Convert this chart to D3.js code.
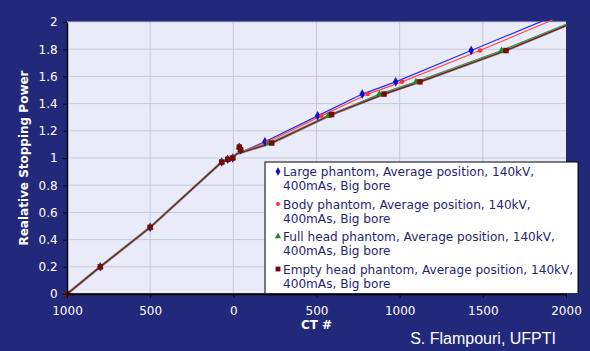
<!DOCTYPE html>
<html>
<head>
<meta charset="utf-8">
<script src="https://cdn.jsdelivr.net/npm/d3@7"></script>
<style>
  html, body { margin: 0; padding: 0; background: #23297a; }
  svg { display: block; }
</style>
</head>
<body>
<div id="chart"></div>
<script>
// x ticks shown without sign, as in the original slide
const xTicks = [-1000, -500, 0, 500, 1000, 1500, 2000];
const yTicks = [0, 0.2, 0.4, 0.6, 0.8, 1, 1.2, 1.4, 1.6, 1.8, 2];

const seriesNames = [
    "Large phantom, Average position, 140kV,|400mAs, Big bore",
    "Body phantom, Average position, 140kV,|400mAs, Big bore",
    "Full head phantom, Average position, 140kV,|400mAs, Big bore",
    "Empty head phantom, Average position, 140kV,|400mAs, Big bore"
];

// shared low-density points (air, lung, fat...)
const lowPoints = [[-1000, 0], [-800, 0.2], [-500, 0.49], [-70, 0.97], [-34, 0.99], [-4, 1.0], [36, 1.08], [44, 1.06]];

const largePoints = [[190, 1.12], [507, 1.31], [775, 1.47], [976, 1.56], [1430, 1.79]];
const bodyPoints = [[208, 1.12], [529, 1.31], [808, 1.47], [1014, 1.56], [1483, 1.79]];
const fullHeadPoints = [[215, 1.11], [571, 1.31], [878, 1.47], [1098, 1.56], [1613, 1.79]];
const emptyHeadPoints = [[231, 1.11], [591, 1.32], [906, 1.47], [1122, 1.56], [1639, 1.79]];

// end of each fitted line
const largeEnd = [1864, 2.01];
const bodyEnd = [1918, 2.015];
const fullHeadEnd = [2004, 1.985];
const emptyHeadEnd = [2004, 1.975];

const W = 590, H = 351;
const margin = { top: 22, right: 24, bottom: 57, left: 67 };
const width = W - margin.left - margin.right;
const height = H - margin.top - margin.bottom;

const svg = d3.select("#chart").append("svg")
    .attr("width", W)
    .attr("height", H);

svg.append("rect")
    .attr("width", W)
    .attr("height", H)
    .attr("fill", "#23297a");

const g = svg.append("g")
    .attr("transform", `translate(${margin.left},${margin.top})`);

const x = d3.scaleLinear().domain([-1000, 2000]).range([0, width]);
const y = d3.scaleLinear().domain([0, 2]).range([height, 0]);

// plot area
g.append("rect")
    .attr("width", width)
    .attr("height", height)
    .attr("fill", "#e9ecf8");

// gridlines
g.append("g")
    .selectAll("line")
    .data(yTicks.slice(1))
    .join("line")
    .attr("x1", 0).attr("x2", width)
    .attr("y1", d => y(d)).attr("y2", d => y(d))
    .attr("stroke", "#c3c9dd")
    .attr("stroke-width", 1);

g.append("g")
    .selectAll("line")
    .data(xTicks.slice(1, -1))
    .join("line")
    .attr("x1", d => x(d)).attr("x2", d => x(d))
    .attr("y1", 0).attr("y2", height)
    .attr("stroke", "#c3c9dd")
    .attr("stroke-width", 1);

const series = [
    { name: seriesNames[0], points: largePoints, end: largeEnd, line: "#2a2af0", fill: "#1010d0", shape: d3.symbolDiamond, size: 26 },
    { name: seriesNames[1], points: bodyPoints, end: bodyEnd, line: "#ff4a4a", fill: "#ff3030", shape: d3.symbolCircle, size: 16 },
    { name: seriesNames[2], points: fullHeadPoints, end: fullHeadEnd, line: "#2a8a2a", fill: "#1f8a1f", shape: d3.symbolTriangle, size: 22 },
    { name: seriesNames[3], points: emptyHeadPoints, end: emptyHeadEnd, line: "#6a2020", fill: "#7a0a0a", shape: d3.symbolSquare, size: 30 }
];

const line = d3.line()
    .x(d => x(d[0]))
    .y(d => y(d[1]));

// lines
series.forEach(s => {
    const pts = lowPoints.filter(p => p[0] < 0).concat([[20, 1.03]], s.points, [s.end]);
    if (s.shape === d3.symbolSquare) {
        g.append("path")
            .datum(pts)
            .attr("fill", "none")
            .attr("stroke", "#8a8a80")
            .attr("stroke-width", 2.6)
            .attr("d", line);
    }
    g.append("path")
        .datum(pts)
        .attr("fill", "none")
        .attr("stroke", s.line)
        .attr("stroke-width", 1.2)
        .attr("d", line);
});

// markers
series.forEach(s => {
    g.append("g")
        .selectAll("path")
        .data(lowPoints.concat(s.points))
        .join("path")
        .attr("transform", d => `translate(${x(d[0])},${y(d[1])})`)
        .attr("d", d3.symbol().type(s.shape).size(s.size))
        .attr("fill", s.fill);
});

// axes
const xAxis = g.append("g")
    .attr("transform", `translate(0,${height})`)
    .call(d3.axisBottom(x).tickValues(xTicks).tickSize(4).tickSizeOuter(0)
        .tickFormat(d => Math.abs(d)));

const yAxis = g.append("g")
    .call(d3.axisLeft(y).tickValues(yTicks).tickSize(4).tickSizeOuter(0)
        .tickFormat(d => d));

[xAxis, yAxis].forEach(a => {
    a.select(".domain").attr("stroke", "#000").attr("stroke-width", 1.5);
    a.selectAll(".tick line").attr("stroke", "#000");
    a.selectAll("text")
        .attr("fill", "#fff")
        .attr("font-family", "DejaVu Sans, Verdana, sans-serif")
        .attr("font-size", 12);
});
xAxis.selectAll("text").attr("y", 12);
yAxis.selectAll("text").attr("dx", "-0.2em");

// legend (its bottom runs under the x axis, as in the original)
const lx = 265 - margin.left, ly = 162 - margin.top;
const legendG = g.append("g").attr("transform", `translate(${lx},${ly})`);

svg.append("defs").append("clipPath")
    .attr("id", "legend-clip")
    .append("rect")
    .attr("x", -2).attr("y", -2)
    .attr("width", 330)
    .attr("height", height - ly + 1);

const legendInner = legendG.append("g").attr("clip-path", "url(#legend-clip)");

legendInner.append("rect")
    .attr("width", 313)
    .attr("height", 140)
    .attr("fill", "#fff")
    .attr("stroke", "#000")
    .attr("stroke-width", 1);

series.forEach((s, i) => {
    const row = legendInner.append("g")
        .attr("transform", `translate(0,${9.5 + i * 32.5})`);
    row.append("path")
        .attr("transform", "translate(13,0)")
        .attr("d", d3.symbol().type(s.shape).size(s.size * 0.8))
        .attr("fill", s.fill);
    s.name.split("|").forEach((t, j) => {
        row.append("text")
            .attr("x", 18)
            .attr("y", 4.5 + j * 14)
            .attr("fill", "#1f2670")
            .attr("font-family", "DejaVu Sans, Verdana, sans-serif")
            .attr("font-size", 12.1)
            .text(t);
    });
});

// x axis line again, on top of the legend
g.append("line")
    .attr("x1", 0).attr("x2", width)
    .attr("y1", height).attr("y2", height)
    .attr("stroke", "#000")
    .attr("stroke-width", 1.5);

// titles
svg.append("text")
    .attr("x", margin.left + x(500))
    .attr("y", 329)
    .attr("text-anchor", "middle")
    .attr("fill", "#fff")
    .attr("font-family", "DejaVu Sans, Verdana, sans-serif")
    .attr("font-weight", "bold")
    .attr("font-size", 12)
    .text("CT #");

svg.append("text")
    .attr("transform", `translate(28,${margin.top + height / 2}) rotate(-90)`)
    .attr("text-anchor", "middle")
    .attr("fill", "#fff")
    .attr("font-family", "DejaVu Sans, Verdana, sans-serif")
    .attr("font-weight", "bold")
    .attr("font-size", 12)
    .text("Realative Stopping Power");

svg.append("text")
    .attr("x", 556)
    .attr("y", 344)
    .attr("text-anchor", "end")
    .attr("fill", "#fff")
    .attr("font-family", "Liberation Sans, Arial, sans-serif")
    .attr("font-size", 16)
    .text("S. Flampouri, UFPTI");
</script>
</body>
</html>
